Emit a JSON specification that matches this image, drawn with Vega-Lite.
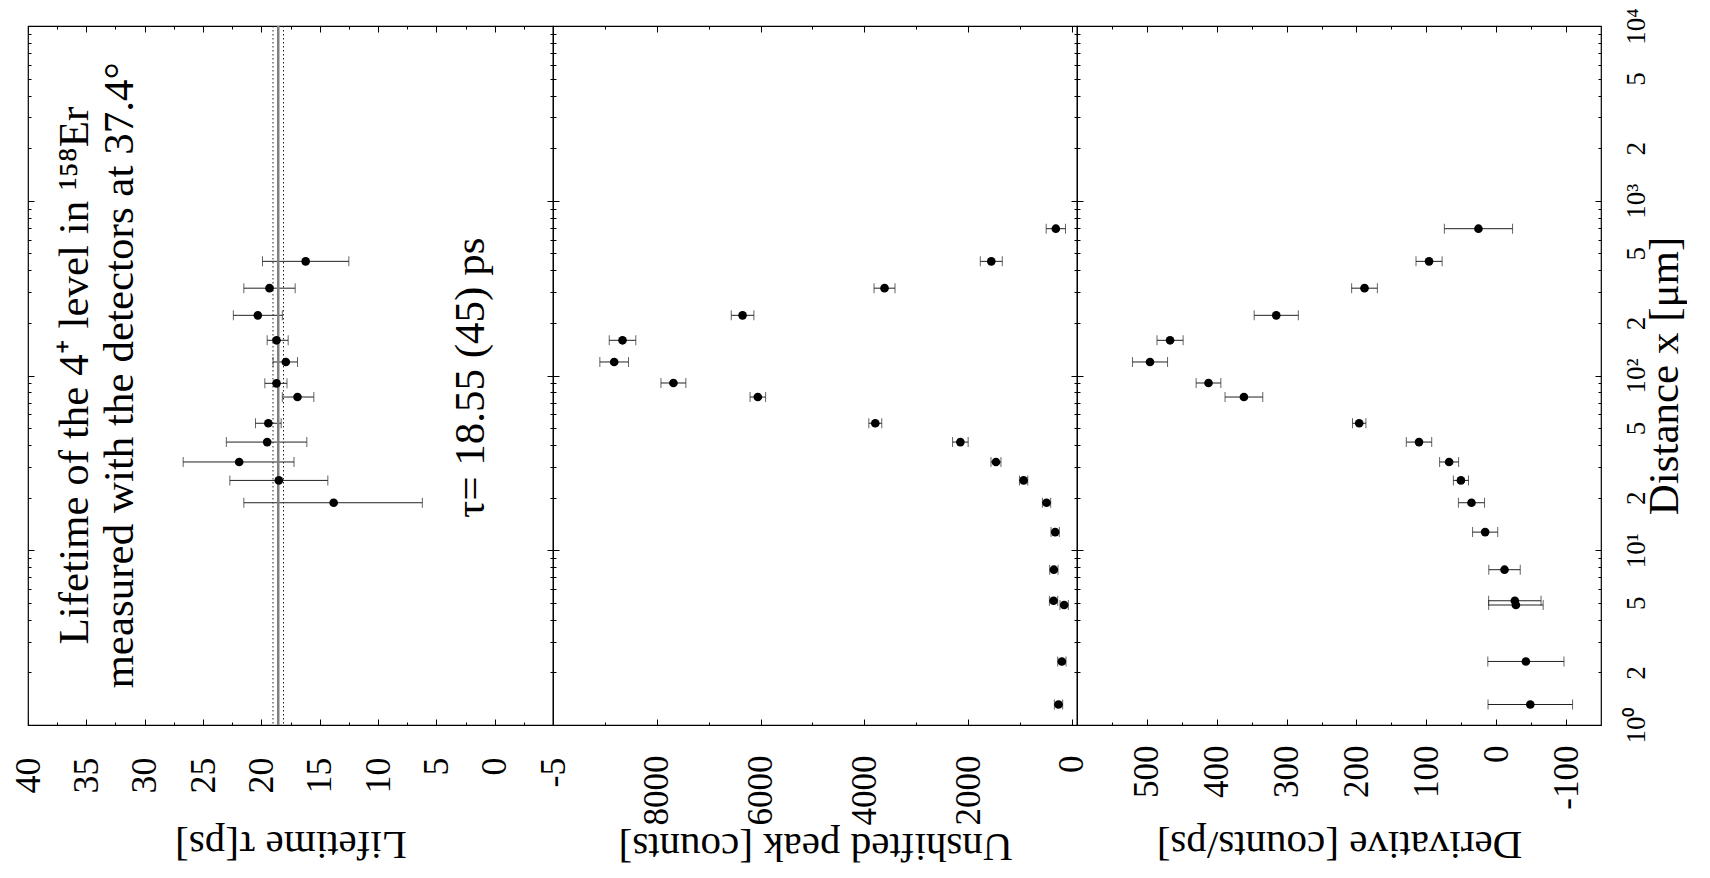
{
  "$schema": "https://vega.github.io/schema/vega-lite/v6.json",
  "background": "white",
  "padding": {"left": 9, "top": 7, "right": 0, "bottom": 40},
  "spacing": 0,
  "bounds": "flush",
  "config": {
    "font": "Liberation Serif",
    "view": {"stroke": "black", "strokeWidth": 1.2},
    "axis": {"domain": false, "grid": false, "tickColor": "black", "tickWidth": 1, "labelColor": "black", "titleColor": "black", "labelFont": "Liberation Serif", "titleFont": "Liberation Serif", "titleFontWeight": "normal", "labelFontWeight": "normal", "labelFlush": false, "labelOverlap": false}
  },
  "datasets": {
    "lifetime": [
      {"d": 18.7, "v": 13.8, "lo": 6.2, "hi": 21.5},
      {"d": 25.1, "v": 18.5, "lo": 14.3, "hi": 22.7},
      {"d": 32.0, "v": 21.9, "lo": 17.2, "hi": 26.7},
      {"d": 41.6, "v": 19.5, "lo": 16.1, "hi": 23.0},
      {"d": 53.3, "v": 19.4, "lo": 18.3, "hi": 20.5},
      {"d": 75.3, "v": 16.9, "lo": 15.5, "hi": 18.2},
      {"d": 90.2, "v": 18.7, "lo": 17.8, "hi": 19.7},
      {"d": 119.5, "v": 17.9, "lo": 16.9, "hi": 19.0},
      {"d": 159, "v": 18.7, "lo": 17.7, "hi": 19.5},
      {"d": 221, "v": 20.3, "lo": 18.2, "hi": 22.4},
      {"d": 316, "v": 19.3, "lo": 17.1, "hi": 21.5},
      {"d": 450, "v": 16.2, "lo": 12.5, "hi": 19.9}
    ],
    "unshifted": [
      {"d": 1.31, "v": 256, "lo": 176, "hi": 336},
      {"d": 2.31, "v": 192, "lo": 112, "hi": 272},
      {"d": 4.86, "v": 148, "lo": 68, "hi": 228},
      {"d": 5.14, "v": 352, "lo": 272, "hi": 432},
      {"d": 7.74, "v": 346, "lo": 266, "hi": 426},
      {"d": 12.7, "v": 321, "lo": 241, "hi": 401},
      {"d": 18.7, "v": 487, "lo": 407, "hi": 567},
      {"d": 25.1, "v": 929, "lo": 849, "hi": 1009},
      {"d": 32.0, "v": 1462, "lo": 1366, "hi": 1558},
      {"d": 41.6, "v": 2148, "lo": 1998, "hi": 2298},
      {"d": 53.3, "v": 3788, "lo": 3663, "hi": 3913},
      {"d": 75.3, "v": 6052, "lo": 5902, "hi": 6202},
      {"d": 90.6, "v": 7679, "lo": 7439, "hi": 7919},
      {"d": 119.5, "v": 8821, "lo": 8545, "hi": 9097},
      {"d": 159, "v": 8660, "lo": 8404, "hi": 8916},
      {"d": 221, "v": 6346, "lo": 6128, "hi": 6564},
      {"d": 316, "v": 3610, "lo": 3408, "hi": 3812},
      {"d": 450, "v": 1552, "lo": 1340, "hi": 1764},
      {"d": 692, "v": 308, "lo": 122, "hi": 494}
    ],
    "derivative": [
      {"d": 1.31, "v": -48.8, "lo": -109.3, "hi": 11.7},
      {"d": 2.31, "v": -42.5, "lo": -97.0, "hi": 12.0},
      {"d": 4.86, "v": -28.2, "lo": -67.2, "hi": 10.8},
      {"d": 5.14, "v": -26.7, "lo": -64.2, "hi": 10.8},
      {"d": 7.74, "v": -11.9, "lo": -34.4, "hi": 10.6},
      {"d": 12.7, "v": 15.8, "lo": -2.2, "hi": 33.8},
      {"d": 18.7, "v": 35.4, "lo": 16.7, "hi": 54.1},
      {"d": 25.1, "v": 50.5, "lo": 39.7, "hi": 61.3},
      {"d": 32.0, "v": 67.4, "lo": 53.8, "hi": 81.0},
      {"d": 41.6, "v": 110.5, "lo": 92.3, "hi": 128.7},
      {"d": 53.3, "v": 196.1, "lo": 186.5, "hi": 205.7},
      {"d": 75.3, "v": 361.1, "lo": 334.1, "hi": 388.1},
      {"d": 90.6, "v": 411.8, "lo": 394.1, "hi": 429.5},
      {"d": 119.5, "v": 495.5, "lo": 470.4, "hi": 520.6},
      {"d": 159, "v": 466.8, "lo": 448.1, "hi": 485.5},
      {"d": 221, "v": 314.8, "lo": 283.2, "hi": 346.4},
      {"d": 316, "v": 188.5, "lo": 170.1, "hi": 206.9},
      {"d": 450, "v": 96.1, "lo": 77.4, "hi": 114.8},
      {"d": 692, "v": 25.4, "lo": -23.4, "hi": 74.2}
    ],
    "tau": [
      {"tau": 18.55, "kind": "mean"},
      {"tau": 18.10, "kind": "bound"},
      {"tau": 19.00, "kind": "bound"}
    ]
  },
  "hconcat": [
    {
      "width": 525,
      "height": 699,
      "data": {"name": "lifetime"},
      "layer": [
        {
          "mark": {"type": "rule", "color": "#222", "strokeWidth": 1},
          "encoding": {
            "x": {"field": "lo", "type": "quantitative", "scale": {"domain": [-5, 40], "reverse": true, "nice": false, "zero": false},
              "axis": {"orient": "bottom", "values": [-5, -2.5, 0, 2.5, 5, 7.5, 10, 12.5, 15, 17.5, 20, 22.5, 25, 27.5, 30, 32.5, 35, 37.5, 40],
                "labelExpr": "datum.value % 5 == 0 ? '' + datum.value : ''",
                "labelFont": "Liberation Serif", "titleFont": "Liberation Serif",
                "labelAngle": 270, "labelAlign": "right", "labelBaseline": "middle", "labelFontSize": 36, "labelPadding": 38,
                "tickSize": {"condition": {"test": "datum.value % 5 != 0", "value": -3}, "value": -6},
                "title": "Lifetime τ[ps]", "titleFontSize": 41, "titleAngle": 180, "titleBaseline": "alphabetic", "titleAlign": "center", "titleY": 106}},
            "x2": {"field": "hi"},
            "y": {"field": "d", "type": "quantitative", "scale": {"type": "log", "domain": [1, 10000], "nice": false},
              "axis": {"orient": "left", "values": [1,2,3,4,5,6,7,8,9,10,20,30,40,50,60,70,80,90,100,200,300,400,500,600,700,800,900,1000,2000,3000,4000,5000,6000,7000,8000,9000,10000],
                "labels": false, "title": null,
                "tickSize": {"condition": {"test": "indexof([1,10,100,1000,10000], datum.value) < 0", "value": -3}, "value": -6}}}
          }
        },
        {
          "mark": {"type": "tick", "orient": "vertical", "size": 10, "thickness": 1, "color": "#222"},
          "encoding": {
            "x": {"field": "lo", "type": "quantitative", "axis": null},
            "y": {"field": "d", "type": "quantitative", "axis": null}
          }
        },
        {
          "mark": {"type": "tick", "orient": "vertical", "size": 10, "thickness": 1, "color": "#222"},
          "encoding": {
            "x": {"field": "hi", "type": "quantitative", "axis": null},
            "y": {"field": "d", "type": "quantitative", "axis": null}
          }
        },
        {
          "data": {"name": "tau"},
          "transform": [{"filter": "datum.kind == 'mean'"}],
          "mark": {"type": "rule", "color": "#808080", "strokeWidth": 2.5},
          "encoding": {"x": {"field": "tau", "type": "quantitative", "axis": null}}
        },
        {
          "data": {"name": "tau"},
          "transform": [{"filter": "datum.kind == 'bound'"}],
          "mark": {"type": "rule", "color": "#222", "strokeWidth": 1, "strokeDash": [1.5, 2.5]},
          "encoding": {"x": {"field": "tau", "type": "quantitative", "axis": null}}
        },
        {
          "data": {"values": [{"label": "Lifetime of the 4⁺ level in ¹⁵⁸Er"}]},
          "mark": {"type": "text", "angle": 270, "align": "center", "baseline": "alphabetic", "fontSize": 43, "font": "Liberation Serif", "color": "black"},
          "encoding": {
            "x": {"datum": 34.9, "type": "quantitative", "axis": null},
            "y": {"datum": 100, "type": "quantitative", "axis": null},
            "text": {"field": "label"}
          }
        },
        {
          "data": {"values": [{"label": "measured with the detectors at 37.4°"}]},
          "mark": {"type": "text", "angle": 270, "align": "center", "baseline": "alphabetic", "fontSize": 43, "font": "Liberation Serif", "color": "black"},
          "encoding": {
            "x": {"datum": 31.0, "type": "quantitative", "axis": null},
            "y": {"datum": 100, "type": "quantitative", "axis": null},
            "text": {"field": "label"}
          }
        },
        {
          "data": {"values": [{"label": "τ= 18.55 (45) ps"}]},
          "mark": {"type": "text", "angle": 270, "align": "center", "baseline": "alphabetic", "fontSize": 43, "font": "Liberation Serif", "color": "black"},
          "encoding": {
            "x": {"datum": 0.9, "type": "quantitative", "axis": null},
            "y": {"datum": 97, "type": "quantitative", "axis": null},
            "text": {"field": "label"}
          }
        },
        {
          "mark": {"type": "circle", "color": "black", "size": 75, "opacity": 1},
          "encoding": {
            "x": {"field": "v", "type": "quantitative",
              "axis": {"orient": "top", "values": [-5, -2.5, 0, 2.5, 5, 7.5, 10, 12.5, 15, 17.5, 20, 22.5, 25, 27.5, 30, 32.5, 35, 37.5, 40], "labels": false, "title": null,
                "tickSize": {"condition": {"test": "datum.value % 5 != 0", "value": -3}, "value": -6}}},
            "y": {"field": "d", "type": "quantitative",
              "axis": {"orient": "right", "values": [1,2,3,4,5,6,7,8,9,10,20,30,40,50,60,70,80,90,100,200,300,400,500,600,700,800,900,1000,2000,3000,4000,5000,6000,7000,8000,9000,10000],
                "labels": false, "title": null,
                "tickSize": {"condition": {"test": "indexof([1,10,100,1000,10000], datum.value) < 0", "value": -3}, "value": -6}}}
          }
        }
      ],
      "resolve": {"axis": {"x": "independent", "y": "independent"}}
    },
    {
      "width": 524,
      "height": 699,
      "data": {"name": "unshifted"},
      "layer": [
        {
          "mark": {"type": "rule", "color": "#222", "strokeWidth": 1},
          "encoding": {
            "x": {"field": "lo", "type": "quantitative", "scale": {"domain": [-100, 10000], "reverse": true, "nice": false, "zero": false},
              "axis": {"orient": "bottom", "values": [0, 1000, 2000, 3000, 4000, 5000, 6000, 7000, 8000, 9000],
                "labelExpr": "datum.value % 2000 == 0 ? '' + datum.value : ''",
                "labelFont": "Liberation Serif", "titleFont": "Liberation Serif",
                "labelAngle": 270, "labelAlign": "right", "labelBaseline": "middle", "labelFontSize": 35, "labelPadding": 36,
                "tickSize": {"condition": {"test": "datum.value % 2000 != 0", "value": -3}, "value": -6},
                "title": "Unshifted peak [counts]", "titleFontSize": 41, "titleAngle": 180, "titleBaseline": "alphabetic", "titleAlign": "center", "titleY": 108}},
            "x2": {"field": "hi"},
            "y": {"field": "d", "type": "quantitative", "scale": {"type": "log", "domain": [1, 10000], "nice": false},
              "axis": {"orient": "left", "values": [1,2,3,4,5,6,7,8,9,10,20,30,40,50,60,70,80,90,100,200,300,400,500,600,700,800,900,1000,2000,3000,4000,5000,6000,7000,8000,9000,10000],
                "labels": false, "title": null,
                "tickSize": {"condition": {"test": "indexof([1,10,100,1000,10000], datum.value) < 0", "value": -3}, "value": -6}}}
          }
        },
        {
          "mark": {"type": "tick", "orient": "vertical", "size": 10, "thickness": 1, "color": "#222"},
          "encoding": {
            "x": {"field": "lo", "type": "quantitative", "axis": null},
            "y": {"field": "d", "type": "quantitative", "axis": null}
          }
        },
        {
          "mark": {"type": "tick", "orient": "vertical", "size": 10, "thickness": 1, "color": "#222"},
          "encoding": {
            "x": {"field": "hi", "type": "quantitative", "axis": null},
            "y": {"field": "d", "type": "quantitative", "axis": null}
          }
        },
        {
          "mark": {"type": "circle", "color": "black", "size": 75, "opacity": 1},
          "encoding": {
            "x": {"field": "v", "type": "quantitative",
              "axis": {"orient": "top", "values": [0, 1000, 2000, 3000, 4000, 5000, 6000, 7000, 8000, 9000], "labels": false, "title": null,
                "tickSize": {"condition": {"test": "datum.value % 2000 != 0", "value": -3}, "value": -6}}},
            "y": {"field": "d", "type": "quantitative",
              "axis": {"orient": "right", "values": [1,2,3,4,5,6,7,8,9,10,20,30,40,50,60,70,80,90,100,200,300,400,500,600,700,800,900,1000,2000,3000,4000,5000,6000,7000,8000,9000,10000],
                "labels": false, "title": null,
                "tickSize": {"condition": {"test": "indexof([1,10,100,1000,10000], datum.value) < 0", "value": -3}, "value": -6}}}
          }
        }
      ],
      "resolve": {"axis": {"x": "independent", "y": "independent"}}
    },
    {
      "width": 524,
      "height": 699,
      "data": {"name": "derivative"},
      "layer": [
        {
          "mark": {"type": "rule", "color": "#222", "strokeWidth": 1},
          "encoding": {
            "x": {"field": "lo", "type": "quantitative", "scale": {"domain": [-150, 600], "reverse": true, "nice": false, "zero": false},
              "axis": {"orient": "bottom", "values": [-100, -50, 0, 50, 100, 150, 200, 250, 300, 350, 400, 450, 500, 550],
                "labelExpr": "datum.value % 100 == 0 ? '' + datum.value : ''",
                "labelFont": "Liberation Serif", "titleFont": "Liberation Serif",
                "labelAngle": 270, "labelAlign": "right", "labelBaseline": "middle", "labelFontSize": 35, "labelPadding": 26,
                "tickSize": {"condition": {"test": "datum.value % 100 != 0", "value": -3}, "value": -6},
                "title": "Derivative [counts/ps]", "titleFontSize": 41, "titleAngle": 180, "titleBaseline": "alphabetic", "titleAlign": "center", "titleY": 106}},
            "x2": {"field": "hi"},
            "y": {"field": "d", "type": "quantitative", "scale": {"type": "log", "domain": [1, 10000], "nice": false},
              "axis": {"orient": "left", "values": [1,2,3,4,5,6,7,8,9,10,20,30,40,50,60,70,80,90,100,200,300,400,500,600,700,800,900,1000,2000,3000,4000,5000,6000,7000,8000,9000,10000],
                "labels": false, "title": null,
                "tickSize": {"condition": {"test": "indexof([1,10,100,1000,10000], datum.value) < 0", "value": -3}, "value": -6}}}
          }
        },
        {
          "mark": {"type": "tick", "orient": "vertical", "size": 10, "thickness": 1, "color": "#222"},
          "encoding": {
            "x": {"field": "lo", "type": "quantitative", "axis": null},
            "y": {"field": "d", "type": "quantitative", "axis": null}
          }
        },
        {
          "mark": {"type": "tick", "orient": "vertical", "size": 10, "thickness": 1, "color": "#222"},
          "encoding": {
            "x": {"field": "hi", "type": "quantitative", "axis": null},
            "y": {"field": "d", "type": "quantitative", "axis": null}
          }
        },
        {
          "mark": {"type": "circle", "color": "black", "size": 75, "opacity": 1},
          "encoding": {
            "x": {"field": "v", "type": "quantitative",
              "axis": {"orient": "top", "values": [-100, -50, 0, 50, 100, 150, 200, 250, 300, 350, 400, 450, 500, 550], "labels": false, "title": null,
                "tickSize": {"condition": {"test": "datum.value % 100 != 0", "value": -3}, "value": -6}}},
            "y": {"field": "d", "type": "quantitative",
              "axis": {"orient": "right", "values": [1,2,3,4,5,6,7,8,9,10,20,30,40,50,60,70,80,90,100,200,300,400,500,600,700,800,900,1000,2000,3000,4000,5000,6000,7000,8000,9000,10000],
                "labelExpr": "indexof([1,10,100,1000,10000], datum.value) >= 0 ? ['10⁰','10¹','10²','10³','10⁴'][indexof([1,10,100,1000,10000], datum.value)] : indexof([2,20,200,2000], datum.value) >= 0 ? '2' : indexof([5,50,500,5000], datum.value) >= 0 ? '5' : ''",
                "labelFont": "Liberation Serif", "titleFont": "Liberation Serif",
                "labelAngle": 270, "labelAlign": "center", "labelBaseline": "alphabetic", "labelFontSize": 27,
                "labelPadding": {"condition": {"test": "indexof([1,10,100,1000,10000], datum.value) < 0", "value": 46}, "value": 49},
                "tickSize": {"condition": {"test": "indexof([1,10,100,1000,10000], datum.value) < 0", "value": -3}, "value": -6},
                "title": "Distance x [μm]", "titleFontSize": 43, "titleAngle": 270, "titleBaseline": "alphabetic", "titleAlign": "center", "titleX": 76}}
          }
        }
      ],
      "resolve": {"axis": {"x": "independent", "y": "independent"}}
    }
  ]
}
